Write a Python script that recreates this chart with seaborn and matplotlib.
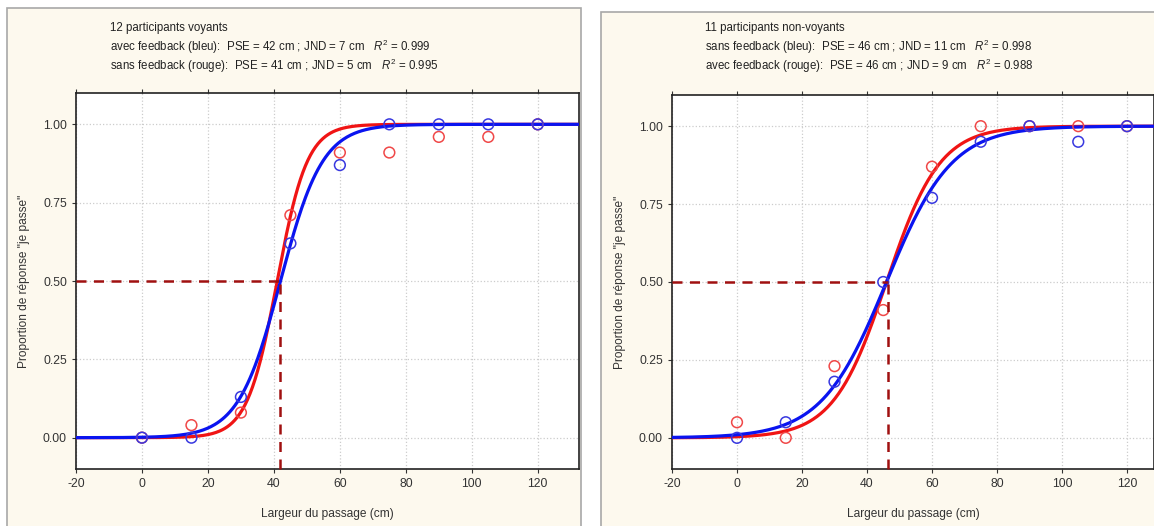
import math
import numpy as np
import pandas as pd
import seaborn as sns
import matplotlib.pyplot as plt
from matplotlib.patches import Rectangle

# ---- data ----
widths = [0, 15, 30, 45, 60, 75, 90, 105, 120]

# left panel: 12 sighted participants
sighted_blue = [0.00, 0.00, 0.13, 0.62, 0.87, 1.00, 1.00, 1.00, 1.00]   # avec feedback
sighted_red = [0.00, 0.04, 0.08, 0.71, 0.91, 0.91, 0.96, 0.96, 1.00]    # sans feedback
sighted_pse = {"blue": 42, "red": 41}
sighted_jnd = {"blue": 7, "red": 5}
sighted_title = ["12 participants voyants",
                 "avec feedback (bleu):  PSE = 42 cm ; JND = 7 cm   $\\mathit{R}^{2}$ = 0.999",
                 "sans feedback (rouge):  PSE = 41 cm ; JND = 5 cm   $\\mathit{R}^{2}$ = 0.995"]
sighted_pse_line = 42

# right panel: 11 blind participants
blind_blue = [0.00, 0.05, 0.18, 0.50, 0.77, 0.95, 1.00, 0.95, 1.00]     # sans feedback
blind_red = [0.05, 0.00, 0.23, 0.41, 0.87, 1.00, 1.00, 1.00, 1.00]      # avec feedback
blind_pse = {"blue": 46, "red": 46}
blind_jnd = {"blue": 11, "red": 9}
blind_title = ["11 participants non-voyants",
               "sans feedback (bleu):  PSE = 46 cm ; JND = 11 cm   $\\mathit{R}^{2}$ = 0.998",
               "avec feedback (rouge):  PSE = 46 cm ; JND = 9 cm   $\\mathit{R}^{2}$ = 0.988"]
blind_pse_line = 46.5

x_ticks = [-20, 0, 20, 40, 60, 80, 100, 120]
y_ticks = [0.00, 0.25, 0.50, 0.75, 1.00]

sns.set_style("white")
plt.rcParams["font.family"] = ["Liberation Sans", "DejaVu Sans"]
plt.rcParams["mathtext.fontset"] = "custom"
plt.rcParams["mathtext.it"] = "Liberation Sans:italic"
plt.rcParams["mathtext.rm"] = "Liberation Sans"
plt.rcParams["axes.unicode_minus"] = False

W, H = 1154, 526
fig = plt.figure(figsize=(W / 100, H / 100), dpi=100)
fig.patch.set_facecolor("white")

curve_colors = {"blue": "#0a14f0", "red": "#f01414"}
point_colors = {"blue": "#3838e0", "red": "#f04848"}


def psychometric(x, pse, jnd):
    # logistic, JND = distance from 50% to 75% point
    s = jnd / math.log(3)
    return 1 / (1 + np.exp(-(x - pse) / s))


def draw_panel(box, ax_rect, xmax, blue, red, pse, jnd, title, pse_line, text_x):
    bx0, by0, bx1, by1 = box
    fig.patches.append(Rectangle((bx0 / W, 1 - by1 / H), (bx1 - bx0) / W, (by1 - by0) / H,
                                 transform=fig.transFigure, facecolor="#fdf9ee",
                                 edgecolor="#a8a8a8", linewidth=1.2, zorder=-5))
    for i, line in enumerate(title):
        fig.text(text_x / W, 1 - (28 + i * 19) / H, line, fontsize=8.3,
                 color="#222222", va="center", ha="left")

    l, t, r, b = ax_rect
    ax = fig.add_axes([l / W, 1 - b / H, (r - l) / W, (b - t) / H])
    ax.set_facecolor("white")

    xs = np.linspace(-20, xmax, 400)
    curves = pd.DataFrame({
        "x": np.concatenate([xs, xs]),
        "y": np.concatenate([psychometric(xs, pse["red"], jnd["red"]),
                             psychometric(xs, pse["blue"], jnd["blue"])]),
        "cond": ["red"] * len(xs) + ["blue"] * len(xs),
    })
    points = pd.DataFrame({
        "x": widths + widths,
        "y": red + blue,
        "cond": ["red"] * len(widths) + ["blue"] * len(widths),
    })

    sns.lineplot(data=curves, x="x", y="y", hue="cond", palette=curve_colors,
                 hue_order=["red", "blue"], linewidth=2.3, legend=False, ax=ax, zorder=3)
    for cond in ["red", "blue"]:
        sub = points[points["cond"] == cond]
        sns.scatterplot(data=sub, x="x", y="y", marker="o", s=60,
                        facecolors="none", edgecolor=point_colors[cond], linewidth=1.1,
                        legend=False, ax=ax, zorder=4)

    ax.plot([-20, pse_line], [0.5, 0.5], color="#a01010", linestyle=(0, (4, 3)),
            linewidth=1.8, zorder=5)
    ax.plot([pse_line, pse_line], [-0.1, 0.5], color="#a01010", linestyle=(0, (4, 3)),
            linewidth=1.8, zorder=5, clip_on=False)

    ax.set_xlim(-20, xmax)
    ax.set_ylim(-0.1, 1.1)
    ax.set_xticks(x_ticks)
    ax.set_yticks(y_ticks)
    ax.set_yticklabels([f"{v:.2f}" for v in y_ticks])
    ax.grid(True, color="#cccccc", linestyle=":", linewidth=0.9)
    ax.tick_params(axis="both", labelsize=8.8, colors="#333333", length=3, direction="out",
                   left=True, bottom=True)
    ax.tick_params(axis="x", top=True, which="both")
    for s in ax.spines.values():
        s.set_color("#222222")
        s.set_linewidth(1.2)
    ax.set_xlabel("Largeur du passage (cm)", fontsize=8.6, color="#333333", labelpad=13)
    ax.set_ylabel("Proportion de réponse \"je passe\"", fontsize=8.6, color="#333333", labelpad=9)
    return ax


draw_panel((7, 8, 581, 530), (76, 93, 579, 469), 132.5,
           sighted_blue, sighted_red, sighted_pse, sighted_jnd, sighted_title,
           sighted_pse_line, 110)
draw_panel((601, 12, 1160, 530), (672, 95, 1154, 469), 128.3,
           blind_blue, blind_red, blind_pse, blind_jnd, blind_title,
           blind_pse_line, 705)

fig.savefig("out.png", dpi=100, facecolor="white")
